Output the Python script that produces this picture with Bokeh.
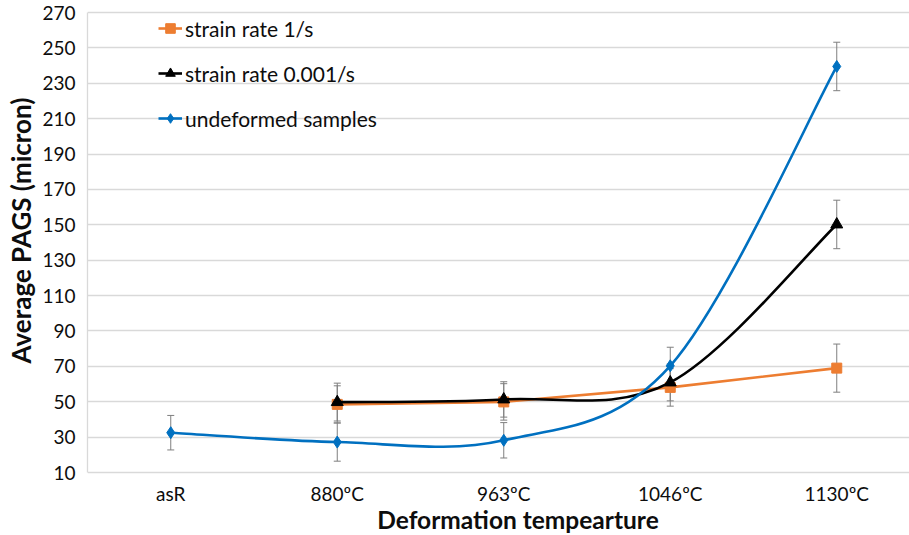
from bokeh.plotting import figure
from bokeh.models import (Range1d, FixedTicker, ColumnDataSource, Whisker, TeeHead,
                          Legend, LegendItem, Label)
from bokeh.core.properties import value
from bokeh.embed import file_html
from bokeh.resources import INLINE

# ---------------- data ----------------
categories = ["asR", "880ºC", "963ºC", "1046ºC", "1130ºC"]
rate_1_values = [None, 48.5, 49.9, 58.1, 69.0]
rate_1_errors = [None, 10.5, 10.3, 10.6, 13.6]
rate_0001_values = [None, 49.8, 51.3, 60.9, 150.2]
rate_0001_errors = [None, 10.7, 10.0, 10.4, 13.7]
undeformed_values = [32.5, 27.2, 28.2, 70.3, 239.5]
undeformed_errors = [9.75, 10.8, 10.0, 10.5, 13.7]
y_ticks = list(range(10, 271, 20))
series_names = ["strain rate 1/s", "strain rate 0.001/s", "undeformed samples"]
x_title = "Deformation tempearture"
y_title = "Average PAGS (micron)"

ORANGE = "#ED7D31"
BLACK = "#000000"
BLUE = "#0070C0"
ERR = "#7F7F7F"
GRID = "#D9D9D9"
TEXT = "#0D0D0D"
FONT = "Lato"

positions = [i + 0.5 for i in range(len(categories))]

# ---------------- layout (pixels) ----------------
FIG_W, FIG_H = 909, 535
LEFT = 87
TOP_TICK_PX = 12       # pixel row of the top tick (270)
BOTTOM_TICK_PX = 472   # pixel row of the bottom tick (10)
px_per_unit = (BOTTOM_TICK_PX - TOP_TICK_PX) / (y_ticks[-1] - y_ticks[0])
y_start = y_ticks[0] - (FIG_H - BOTTOM_TICK_PX) / px_per_unit
y_end = y_ticks[-1] + TOP_TICK_PX / px_per_unit
CAT_PX = 166.5
x_end = (FIG_W - LEFT) / CAT_PX


def series(vals, errs):
    xs, ys, up, lo = [], [], [], []
    for x, v, e in zip(positions, vals, errs):
        if v is None:
            continue
        xs.append(x)
        ys.append(v)
        up.append(v + e)
        lo.append(v - e)
    return xs, ys, up, lo


def smooth_source(xs, ys):
    n = len(xs)
    d = dict(x0=[], y0=[], x1=[], y1=[], cx0=[], cy0=[], cx1=[], cy1=[])
    for i in range(n - 1):
        xp, yp = (xs[i - 1], ys[i - 1]) if i > 0 else (xs[i], ys[i])
        xn, yn = (xs[i + 2], ys[i + 2]) if i + 2 < n else (xs[i + 1], ys[i + 1])
        d["x0"].append(xs[i]); d["y0"].append(ys[i])
        d["x1"].append(xs[i + 1]); d["y1"].append(ys[i + 1])
        d["cx0"].append(xs[i] + (xs[i + 1] - xp) / 6.0)
        d["cy0"].append(ys[i] + (ys[i + 1] - yp) / 6.0)
        d["cx1"].append(xs[i + 1] - (xn - xs[i]) / 6.0)
        d["cy1"].append(ys[i + 1] - (yn - ys[i]) / 6.0)
    return ColumnDataSource(d)


p = figure(width=FIG_W, height=FIG_H, output_backend="svg", toolbar_location=None,
           x_range=Range1d(0, x_end), y_range=Range1d(y_start, y_end),
           x_axis_location=None,
           min_border_left=LEFT, min_border_right=0, min_border_top=0,
           min_border_bottom=0)
p.outline_line_color = None
p.background_fill_color = "white"
p.border_fill_color = "white"

for g in p.grid:
    if g.dimension == 0:
        g.visible = False
    else:
        g.ticker = FixedTicker(ticks=y_ticks)
        g.grid_line_color = GRID
        g.grid_line_width = 1.3

ya = p.yaxis[0]
ya.ticker = FixedTicker(ticks=y_ticks)
ya.bounds = (y_ticks[0], y_ticks[-1])
ya.axis_line_color = GRID
ya.axis_line_width = 1.3
ya.major_tick_line_color = None
ya.minor_tick_line_color = None
ya.major_tick_out = 0
ya.major_tick_in = 0
ya.minor_tick_out = 0
ya.major_label_text_font = FONT
ya.major_label_text_font_size = "19px"
ya.major_label_text_color = TEXT
ya.major_label_standoff = 12
# leading spaces lift the centred title to where the reference has it
ya.axis_label = "\u00a0" * 12 + y_title
ya.axis_label_text_font = FONT
ya.axis_label_text_font_style = "bold"
ya.axis_label_text_font_size = "26px"
ya.axis_label_text_color = TEXT
ya.axis_label_standoff = 2

# category labels under the bottom gridline
p.text(x=positions, y=[y_ticks[0]] * len(positions), text=categories,
       text_align="center", text_baseline="alphabetic", y_offset=21,
       text_font=value(FONT), text_font_size=value("19px"), text_color=TEXT)

p.add_layout(Label(x=430.5, y=16, x_units="screen", y_units="screen", text=x_title,
                   text_align="center", text_baseline="alphabetic", text_font=FONT,
                   text_font_style="bold", text_font_size="24.5px", text_color=TEXT))

items = []
specs = [
    (rate_1_values, rate_1_errors, ORANGE, "square", 10, False),
    (rate_0001_values, rate_0001_errors, BLACK, "triangle", 12, True),
    (undeformed_values, undeformed_errors, BLUE, "diamond", 12, True),
]
for name, (vals, errs, color, marker, size, smooth) in zip(series_names, specs):
    xs, ys, up, lo = series(vals, errs)
    if smooth:
        line_r = p.bezier(x0="x0", y0="y0", x1="x1", y1="y1", cx0="cx0", cy0="cy0",
                          cx1="cx1", cy1="cy1", source=smooth_source(xs, ys),
                          line_color=color, line_width=2.6)
    else:
        line_r = p.line(xs, ys, line_color=color, line_width=2.6)
    pts = ColumnDataSource(dict(x=xs, y=ys, upper=up, lower=lo))
    mark_r = p.scatter("x", "y", source=pts, marker=marker, size=size,
                       fill_color=color, line_color=color)
    p.add_layout(Whisker(source=pts, base="x", upper="upper", lower="lower",
                         line_color=ERR, line_width=1,
                         upper_head=TeeHead(size=7, line_color=ERR, line_width=1),
                         lower_head=TeeHead(size=7, line_color=ERR, line_width=1)))
    items.append(LegendItem(label=name, renderers=[line_r, mark_r]))

LEG_ITEM_H = 26
LEG_SPACING = 19
LEG_TOP = 15
leg_h = 3 * LEG_ITEM_H + 2 * LEG_SPACING
legend = Legend(items=items, location=(71, FIG_H - LEG_TOP - leg_h), orientation="vertical",
                padding=0, margin=0, spacing=LEG_SPACING, glyph_width=24,
                glyph_height=LEG_ITEM_H, label_height=LEG_ITEM_H, label_standoff=3,
                border_line_color=None, background_fill_alpha=0, label_text_font=FONT,
                label_text_font_size="21px", label_text_color=TEXT)
p.add_layout(legend, "center")

open("out.html", "w").write(file_html(p, INLINE))
